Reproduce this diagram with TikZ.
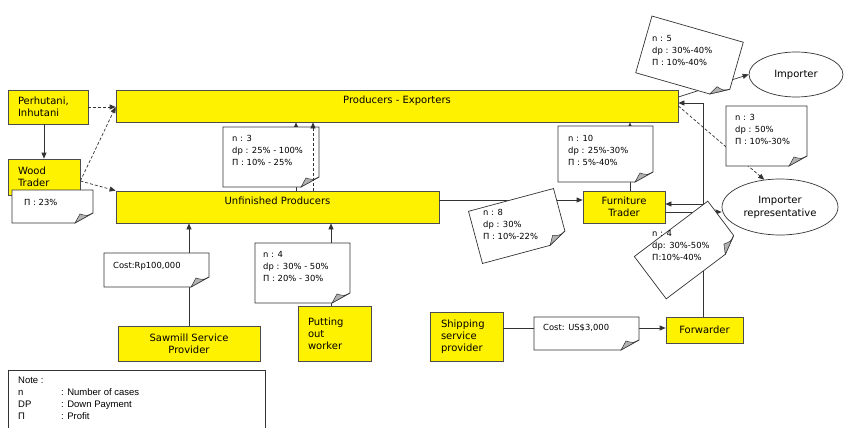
\documentclass[tikz,border=0pt]{standalone}
\usepackage{fontspec}
\setmainfont{DejaVu Sans}
\newfontfamily\legendfont{Liberation Sans}
\usetikzlibrary{arrows.meta,shapes.geometric,calc}

\tikzset{
  ybox/.style={draw=black!70, fill=yellow, line width=0.7pt, inner sep=0pt, font=\fontsize{10}{12}\selectfont},
  oval/.style={ellipse, draw=black!80, line width=0.7pt, inner sep=0pt, align=center, font=\fontsize{10}{13}\selectfont},
  conn/.style={draw=black!80, line width=0.7pt},
  arr/.style={conn, -{Triangle[length=6pt,width=5pt]}},
  darr/.style={arr, dash pattern=on 3pt off 2pt},
  notebox/.style={draw=black!80, fill=white, line width=0.7pt},
  notefold/.style={draw=black!80, fill=black!30, line width=0.5pt},
  notetext/.style={anchor=north west, inner sep=0pt, align=left, font=\fontsize{8.4}{12}\selectfont},
}

\newcommand\notebg[4]{%
  \begin{scope}[shift={(#1)}, rotate=#4]
    \filldraw[notebox] (-#2/2,-#3/2) -- (#2/2,-#3/2) -- (#2/2,#3/2-10) -- (#2/2-18,#3/2) -- (-#2/2,#3/2) -- cycle;
    \filldraw[notefold] (#2/2,#3/2-10) .. controls (#2/2-6,#3/2-7) .. (#2/2-13,#3/2-9) -- (#2/2-18,#3/2) -- cycle;
  \end{scope}}

\begin{document}
\begin{tikzpicture}[x=1pt,y=-1pt]
\useasboundingbox (0,0) rectangle (844,428);

% helper coordinates
\coordinate (xa) at (296,0);
\coordinate (xb) at (313,0);
\coordinate (xd) at (331,0);
\coordinate (xe) at (630,0);
\coordinate (xf) at (703,0);
\coordinate (ya) at (0,200);
\coordinate (yb) at (0,212);
\coordinate (yc) at (0,204);
\coordinate (yd) at (0,103);
\coordinate (ye) at (0,328);

% boxes
\node[ybox, minimum width=80pt, minimum height=34pt, text width=60pt, align=left] (perh) at (48,107) {Perhutani,\\Inhutani};
\node[ybox, minimum width=72pt, minimum height=36pt, text width=52pt, align=left] (wood) at (44,177) {Wood\\Trader};
\node[ybox, minimum width=562pt, minimum height=32pt, text depth=13pt] (pe) at (397,106) {Producers - Exporters};
\node[ybox, minimum width=323pt, minimum height=32pt, text depth=13pt] (up) at (277.5,207) {Unfinished Producers};
\node[ybox, minimum width=82pt, minimum height=32pt, align=center] (ft) at (624,207) {Furniture\\Trader};
\node[ybox, minimum width=142pt, minimum height=35pt, align=center] (saw) at (189,343.5) {Sawmill Service\\Provider};
\node[ybox, minimum width=73pt, minimum height=55pt, text width=53pt, align=left] (po) at (334.5,333.5) {Putting\\out\\worker};
\node[ybox, minimum width=73pt, minimum height=49pt, text width=51pt, align=left] (ship) at (466.5,336.5) {Shipping\\service\\provider};
\node[ybox, minimum width=77pt, minimum height=26pt] (fwd) at (704.5,330) {Forwarder};
\node[oval, minimum width=94pt, minimum height=45pt] (imp) at (796,74.5) {Importer};
\node[oval, minimum width=116pt, minimum height=56pt] (ir) at (780,207) {Importer\\representative};

% connectors
\draw[arr] (wood.north |- perh.south) -- (wood.north);
\draw[darr] (perh.east) -- (pe.west |- perh.east);
\draw[darr] ($(wood.east)+(0,4)$) -- (pe.west |- perh.east);
\draw[darr] ($(wood.east)+(0,4)$) -- (up.north west);
\draw[arr] (up.north -| xa) -- (pe.south -| xa);
\draw[arr] (saw.north) -- (up.south -| saw.north);
\draw[arr] (po.north -| xd) -- (up.south -| xd);
\draw[arr] (up.east |- ya) -- (ft.west |- ya);
\draw[arr] (ft.north -| xe) -- (pe.south -| xe);
\draw[arr] ($(pe.east)+(0,-9)$) -- (imp.west);
\draw[arr] (fwd.north -| xf) -- (xf |- yd) -- (pe.east |- yd);
\draw[arr] (xf |- yc) -- (ft.east |- yc);
\draw[arr] (ft.east |- yb) -- (ir.west |- yb);
\draw[darr] (pe.east) -- (ir.120);
\draw[arr] (ship.east |- ye) -- (fwd.west |- ye);

% notes
\notebg{52.5,206.5}{81}{33}{0}
\node[notetext] (t23) at (24,199) {Π : 23\%};
\notebg{271,157}{96}{60}{0}
\node[notetext] (tn3) at (232,135) {n : 3\\dp : 25\% - 100\%\\Π : 10\% - 25\%};
\notebg{156.5,270}{105}{34}{0}
\node[notetext] (trp) at (113,262) {Cost:Rp100,000};
\notebg{302.5,273}{95}{60}{0}
\node[notetext] (tn4) at (263,251) {n : 4\\dp : 30\% - 50\%\\Π : 20\% - 30\%};
\notebg{605.5,154}{95}{56}{0}
\node[notetext] (tn10) at (568,135) {n : 10\\dp : 25\%-30\%\\Π : 5\%-40\%};
\notebg{689.5,57.5}{95}{59}{-16}
\node[notetext] (tn5) at (652,35) {n : 5\\dp : 30\%-40\%\\Π : 10\%-40\%};
\notebg{766.5,136}{81}{60}{0}
\node[notetext] (tn3r) at (735,114) {n : 3\\dp : 50\%\\Π : 10\%-30\%};
\notebg{518,226}{88}{54}{15}
\node[notetext] (tn8) at (483,209) {n : 8\\dp : 30\%\\Π : 10\%-22\%};
\notebg{687,250}{92}{53}{37}
\node[notetext] (tn4r) at (652,230) {n : 4\\dp: 30\%-50\%\\Π:10\%-40\%};
\notebg{586.5,333.5}{105}{33}{0}
\node[notetext] (tus) at (543,324) {Cost: US\$3,000};

% dotted arrow over note
\draw[darr] (up.north -| xb) -- (pe.south -| xb);

% legend
\draw[conn] (8,428) -- (8,370) -- (265,370) -- (265,428);
\node[anchor=north west, inner sep=0pt, align=left, font=\legendfont\fontsize{9.5}{11.8}\selectfont] (legend) at (18,377)
  {Note :\\\makebox[43pt][l]{n}: Number of cases\\\makebox[43pt][l]{DP}: Down Payment\\\makebox[43pt][l]{Π}: Profit};
\end{tikzpicture}
\end{document}
